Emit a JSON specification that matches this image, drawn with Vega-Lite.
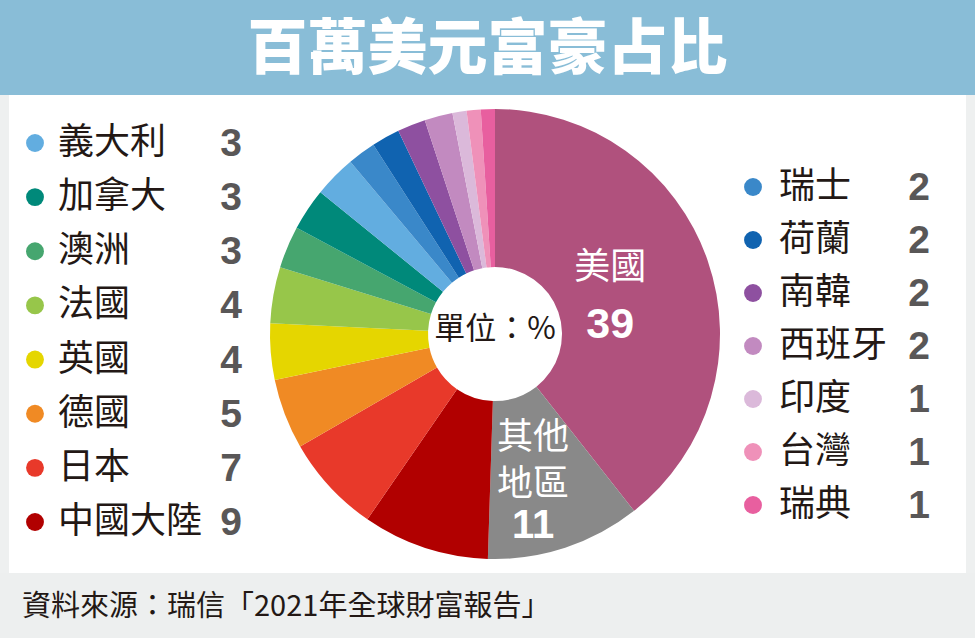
{
  "$schema": "https://vega.github.io/schema/vega-lite/v6.json",
  "padding": 0,
  "spacing": 0,
  "center": true,
  "background": "#eef0f0",
  "config": {"view": {"stroke": null}, "font": "Noto Sans CJK TC"},
  "datasets": {
    "shares": [
      {"country": "美國", "value": 39, "order": 1},
      {"country": "其他地區", "value": 11, "order": 2},
      {"country": "中國大陸", "value": 9, "order": 3},
      {"country": "日本", "value": 7, "order": 4},
      {"country": "德國", "value": 5, "order": 5},
      {"country": "英國", "value": 4, "order": 6},
      {"country": "法國", "value": 4, "order": 7},
      {"country": "澳洲", "value": 3, "order": 8},
      {"country": "加拿大", "value": 3, "order": 9},
      {"country": "義大利", "value": 3, "order": 10},
      {"country": "瑞士", "value": 2, "order": 11},
      {"country": "荷蘭", "value": 2, "order": 12},
      {"country": "南韓", "value": 2, "order": 13},
      {"country": "西班牙", "value": 2, "order": 14},
      {"country": "印度", "value": 1, "order": 15},
      {"country": "台灣", "value": 1, "order": 16},
      {"country": "瑞典", "value": 1, "order": 17}
    ]
  },
  "vconcat": [
    {
      "width": 975,
      "height": 95,
      "view": {"fill": "#89bdd7", "stroke": null},
      "data": {"values": [{"title": "百萬美元富豪占比"}]},
      "mark": {"type": "text", "font": "Noto Sans CJK TC", "fontWeight": 900, "fontSize": 60, "color": "#ffffff", "baseline": "middle", "align": "center", "dy": 3},
      "encoding": {"text": {"field": "title"}}
    },
    {
      "spacing": 0,
      "hconcat": [
        {
          "width": 261,
          "height": 478,
          "view": {"fill": "#ffffff", "stroke": null},
          "data": {"name": "shares"},
          "transform": [{"filter": {"field": "order", "range": [3, 10]}}],
          "encoding": {
            "y": {"field": "order", "type": "quantitative", "scale": {"domain": [2.058, 10.886], "zero": false, "nice": false}, "axis": null}
          },
          "layer": [
            {
              "mark": {"type": "point", "filled": true, "opacity": 1, "size": 320},
              "encoding": {
                "x": {"datum": 26, "type": "quantitative", "scale": {"domain": [0, 261], "nice": false, "zero": true}, "axis": null},
                "color": {"field": "country", "type": "nominal", "legend": null,
                  "scale": {"domain": ["美國","其他地區","中國大陸","日本","德國","英國","法國","澳洲","加拿大","義大利","瑞士","荷蘭","南韓","西班牙","印度","台灣","瑞典"],
                            "range": ["#b0517d","#898989","#b10000","#e8392a","#f08a24","#e5d600","#97c64a","#46a66f","#00897a","#62ade0","#3a88c9","#1063b0","#8e50a0","#c28ac0","#dbb9da","#ef91b9","#e85f9f"]}}
              }
            },
            {
              "mark": {"type": "text", "align": "left", "baseline": "middle", "fontSize": 36, "color": "#231815", "font": "Noto Sans CJK TC"},
              "encoding": {
                "x": {"datum": 49, "type": "quantitative", "scale": {"domain": [0, 261], "nice": false, "zero": true}, "axis": null},
                "text": {"field": "country"}
              }
            },
            {
              "mark": {"type": "text", "align": "center", "baseline": "middle", "fontSize": 39, "fontWeight": "bold", "color": "#595757", "font": "Liberation Sans", "dy": 1},
              "encoding": {
                "x": {"datum": 222, "type": "quantitative", "scale": {"domain": [0, 261], "nice": false, "zero": true}, "axis": null},
                "text": {"field": "value"}
              }
            }
          ]
        },
        {
          "width": 450,
          "height": 478,
          "view": {"fill": "#ffffff", "stroke": null},
          "layer": [
            {
              "data": {"name": "shares"},
              "mark": {"type": "arc", "outerRadius": 225, "innerRadius": 67},
              "encoding": {
                "theta": {"field": "value", "type": "quantitative", "stack": true},
                "order": {"field": "order", "type": "quantitative"},
                "color": {"field": "country", "type": "nominal", "legend": null,
                  "scale": {"domain": ["美國","其他地區","中國大陸","日本","德國","英國","法國","澳洲","加拿大","義大利","瑞士","荷蘭","南韓","西班牙","印度","台灣","瑞典"],
                            "range": ["#b0517d","#898989","#b10000","#e8392a","#f08a24","#e5d600","#97c64a","#46a66f","#00897a","#62ade0","#3a88c9","#1063b0","#8e50a0","#c28ac0","#dbb9da","#ef91b9","#e85f9f"]}}
              }
            },
            {
              "data": {"name": "shares"},
              "mark": {"type": "text", "radius": 122, "dy": -26, "fontSize": 36, "color": "#ffffff", "baseline": "middle", "align": "center", "font": "Noto Sans CJK TC"},
              "encoding": {
                "theta": {"field": "value", "type": "quantitative", "stack": true},
                "order": {"field": "order", "type": "quantitative"},
                "text": {"condition": {"test": "datum.country === '美國'", "field": "country"}, "value": ""}
              }
            },
            {
              "data": {"name": "shares"},
              "mark": {"type": "text", "radius": 122, "dy": 31, "fontSize": 43, "fontWeight": "bold", "color": "#ffffff", "baseline": "middle", "align": "center", "font": "Liberation Sans"},
              "encoding": {
                "theta": {"field": "value", "type": "quantitative", "stack": true},
                "order": {"field": "order", "type": "quantitative"},
                "text": {"condition": {"test": "datum.country === '美國'", "field": "value"}, "value": ""}
              }
            },
            {
              "data": {"name": "shares"},
              "mark": {"type": "text", "radius": 122, "dy": -12, "fontSize": 36, "color": "#ffffff", "baseline": "middle", "align": "center", "font": "Noto Sans CJK TC"},
              "encoding": {
                "theta": {"field": "value", "type": "quantitative", "stack": true},
                "order": {"field": "order", "type": "quantitative"},
                "text": {"condition": {"test": "datum.country === '其他地區'", "value": "其他"}, "value": ""}
              }
            },
            {
              "data": {"name": "shares"},
              "mark": {"type": "text", "radius": 122, "dy": 35, "fontSize": 36, "color": "#ffffff", "baseline": "middle", "align": "center", "font": "Noto Sans CJK TC"},
              "encoding": {
                "theta": {"field": "value", "type": "quantitative", "stack": true},
                "order": {"field": "order", "type": "quantitative"},
                "text": {"condition": {"test": "datum.country === '其他地區'", "value": "地區"}, "value": ""}
              }
            },
            {
              "data": {"name": "shares"},
              "mark": {"type": "text", "radius": 122, "dy": 76, "fontSize": 40, "fontWeight": "bold", "color": "#ffffff", "baseline": "middle", "align": "center", "font": "Liberation Sans"},
              "encoding": {
                "theta": {"field": "value", "type": "quantitative", "stack": true},
                "order": {"field": "order", "type": "quantitative"},
                "text": {"condition": {"test": "datum.country === '其他地區'", "field": "value"}, "value": ""}
              }
            },
            {
              "data": {"values": [{"t": "單位：%"}]},
              "mark": {"type": "text", "fontSize": 31, "color": "#231815", "baseline": "middle", "align": "center", "font": "Noto Sans CJK TC", "dy": -4},
              "encoding": {"text": {"field": "t"}}
            }
          ]
        },
        {
          "width": 246,
          "height": 478,
          "view": {"fill": "#ffffff", "stroke": null},
          "data": {"name": "shares"},
          "transform": [{"filter": {"field": "order", "range": [11, 17]}}],
          "encoding": {
            "y": {"field": "order", "type": "quantitative", "scale": {"domain": [9.264, 18.284], "zero": false, "nice": false, "reverse": true}, "axis": null}
          },
          "layer": [
            {
              "mark": {"type": "point", "filled": true, "opacity": 1, "size": 320},
              "encoding": {
                "x": {"datum": 33, "type": "quantitative", "scale": {"domain": [0, 246], "nice": false, "zero": true}, "axis": null},
                "color": {"field": "country", "type": "nominal", "legend": null,
                  "scale": {"domain": ["美國","其他地區","中國大陸","日本","德國","英國","法國","澳洲","加拿大","義大利","瑞士","荷蘭","南韓","西班牙","印度","台灣","瑞典"],
                            "range": ["#b0517d","#898989","#b10000","#e8392a","#f08a24","#e5d600","#97c64a","#46a66f","#00897a","#62ade0","#3a88c9","#1063b0","#8e50a0","#c28ac0","#dbb9da","#ef91b9","#e85f9f"]}}
              }
            },
            {
              "mark": {"type": "text", "align": "left", "baseline": "middle", "fontSize": 36, "color": "#231815", "font": "Noto Sans CJK TC"},
              "encoding": {
                "x": {"datum": 59, "type": "quantitative", "scale": {"domain": [0, 246], "nice": false, "zero": true}, "axis": null},
                "text": {"field": "country"}
              }
            },
            {
              "mark": {"type": "text", "align": "center", "baseline": "middle", "fontSize": 39, "fontWeight": "bold", "color": "#595757", "font": "Liberation Sans", "dy": 1},
              "encoding": {
                "x": {"datum": 199, "type": "quantitative", "scale": {"domain": [0, 246], "nice": false, "zero": true}, "axis": null},
                "text": {"field": "value"}
              }
            }
          ]
        }
      ]
    },
    {
      "width": 975,
      "height": 65,
      "view": {"fill": "#edefef", "stroke": null},
      "data": {"values": [{"src": "資料來源：瑞信「2021年全球財富報告」"}]},
      "mark": {"type": "text", "align": "left", "baseline": "middle", "fontSize": 29, "color": "#231815", "font": "Noto Sans CJK TC", "dy": 1},
      "encoding": {
        "x": {"datum": 22, "type": "quantitative", "scale": {"domain": [0, 975], "nice": false, "zero": true}, "axis": null},
        "text": {"field": "src"}
      }
    }
  ]
}
